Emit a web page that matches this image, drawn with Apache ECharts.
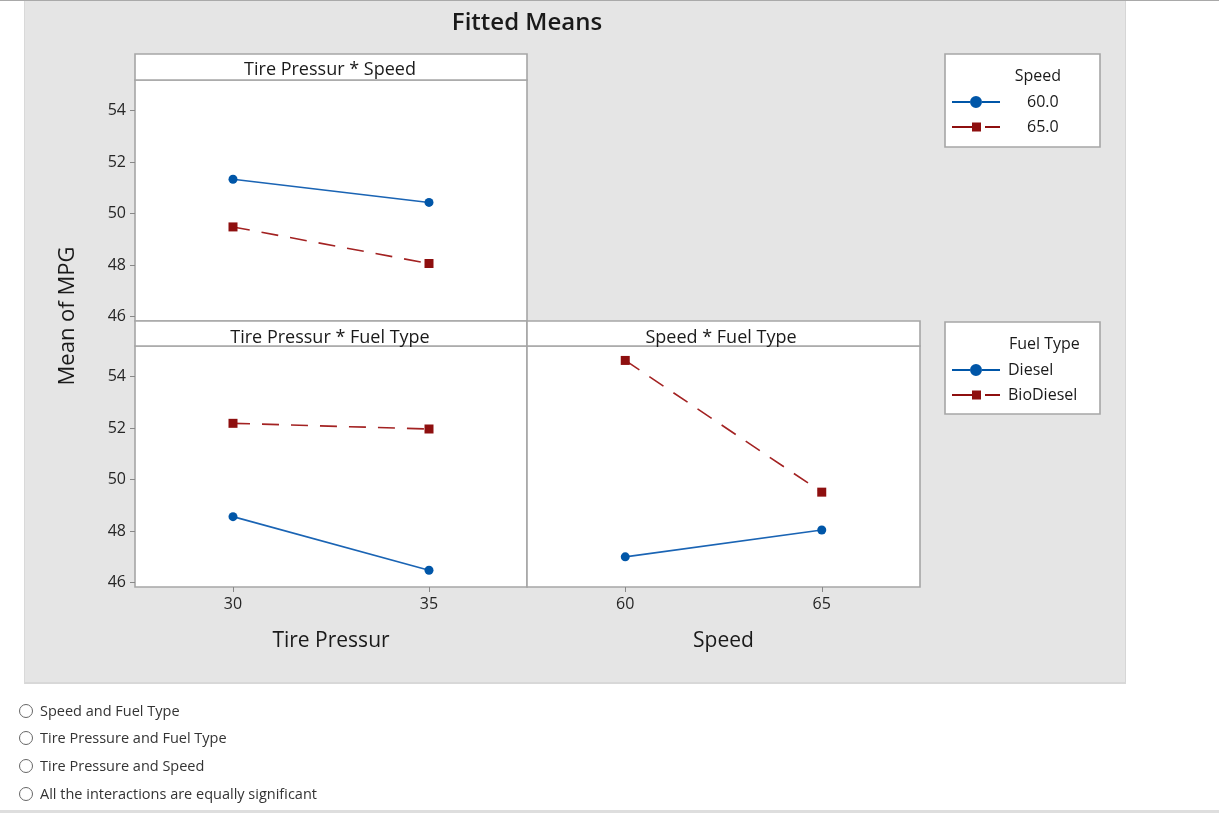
<!DOCTYPE html>
<html>
<head>
<meta charset="utf-8">
<script src="https://cdn.jsdelivr.net/npm/echarts@6/dist/echarts.min.js"></script>
<style>
  html, body { margin: 0; padding: 0; background: #fff; width: 1219px; height: 814px; overflow: hidden; font-family: "Open Sans", sans-serif; }
  #topline { position: absolute; left: 0; top: 0; width: 1219px; height: 1px; background: #a9a9a9; }
  #panel { position: absolute; left: 24px; top: 1px; width: 1100px; height: 681px; background: #e5e5e5; border-left: 1px solid #d9d9d9; border-right: 1px solid #d6d6d6; border-bottom: 2px solid #d8d8d8; }
  #chart { position: absolute; left: 0; top: 0; width: 1219px; height: 814px; }
  .opt { position: absolute; left: 19px; height: 20px; line-height: 20px; font-size: 14.5px; color: #333; }
  .opt span.r { display: inline-block; width: 12px; height: 12px; border: 1px solid #666; border-radius: 50%; vertical-align: middle; margin-right: 7px; margin-top: -3px; background: #fff; }
  #bottomline { position: absolute; left: 0; top: 810px; width: 1219px; height: 3px; background: #dedede; }
</style>
</head>
<body>
<div id="topline"></div>
<div id="panel"></div>
<div id="chart"></div>
<div id="opts"></div>
<div id="bottomline"></div>
<script>
// ---- data ----
const tirePressurLevels = [30, 35];
const speedLevels = [60, 65];
const speedNames = ['60.0', '65.0'];
const fuelNames = ['Diesel', 'BioDiesel'];
const tpSpeed60 = [51.33, 50.43];
const tpSpeed65 = [49.48, 48.06];
const tpDiesel = [48.56, 46.48];
const tpBioDiesel = [52.18, 51.96];
const spDiesel = [47.00, 48.04];
const spBioDiesel = [54.62, 49.51];
const yTickValues = [46, 48, 50, 52, 54];
const panelTitles = ['Tire Pressur * Speed', 'Tire Pressur * Fuel Type', 'Speed * Fuel Type'];
const options = ['Speed and Fuel Type', 'Tire Pressure and Fuel Type', 'Tire Pressure and Speed', 'All the interactions are equally significant'];

// radio options
const optBox = document.getElementById('opts');
const optTops = [701, 728, 756, 784];
options.forEach((t, i) => {
  const d = document.createElement('div');
  d.className = 'opt';
  d.style.top = optTops[i] + 'px';
  d.innerHTML = '<span class="r"></span>' + t;
  optBox.appendChild(d);
});

const FONT = '"Open Sans", "Noto Sans", sans-serif';
const BLUE = '#0056a8';
const RED = '#8e0f0f';
const REDLINE = '#a32222';
const BORDER = '#a6a6a6';
const pairs = (xs, ys) => xs.map((x, i) => [x, ys[i]]);

// legend icons: line + marker (48 x 14 box)
const ICON_CIRCLE = 'path://M0,6H18V8H0Z M30,6H48V8H30Z M30,7A6,6,0,1,1,18,7A6,6,0,1,1,30,7Z';
const ICON_SQUARE = 'path://M0,6H20V8H0Z M20,2.5H29V11.5H20Z M33,6H48V8H33Z';

const chart = echarts.init(document.getElementById('chart'), null, { renderer: 'canvas' });

const gridBase = { show: true, backgroundColor: '#fff', borderColor: BORDER, borderWidth: 1.6, containLabel: false };
const grids = [
  Object.assign({ left: 135, top: 80, width: 392, height: 241 }, gridBase),
  Object.assign({ left: 135, top: 346, width: 392, height: 241 }, gridBase),
  Object.assign({ left: 527, top: 346, width: 393, height: 241 }, gridBase)
];

function xAxisFor(gi, levels, min, max, showLabels, name) {
  return {
    type: 'value', gridIndex: gi, min: min, max: max,
    splitLine: { show: false },
    axisLine: { show: false },
    axisTick: { show: showLabels, inside: false, length: 5, lineStyle: { color: '#888' }, customValues: levels },
    axisLabel: { show: showLabels, margin: 9, fontSize: 16, color: '#262626', fontFamily: FONT, customValues: levels },
    name: name, nameLocation: 'middle', nameGap: 44,
    nameTextStyle: { fontSize: 21, color: '#1a1a1a', fontFamily: FONT }
  };
}
function yAxisFor(gi, showLabels) {
  return {
    type: 'value', gridIndex: gi, min: 45.83, max: 55.18,
    splitLine: { show: false },
    axisLine: { show: false },
    axisTick: { show: showLabels, inside: false, length: 5, lineStyle: { color: '#888' }, customValues: yTickValues },
    axisLabel: { show: showLabels, margin: 9, fontSize: 16, color: '#262626', fontFamily: FONT, customValues: yTickValues }
  };
}

function blueSeries(name, gi, data) {
  return {
    type: 'line', name: name, xAxisIndex: gi, yAxisIndex: gi, data: data,
    symbol: 'circle', symbolSize: 9,
    itemStyle: { color: BLUE },
    lineStyle: { color: '#1a64b4', width: 1.6, type: 'solid' },
    z: 3
  };
}
function redSeries(name, gi, data) {
  return {
    type: 'line', name: name, xAxisIndex: gi, yAxisIndex: gi, data: data,
    symbol: 'rect', symbolSize: 9,
    itemStyle: { color: RED },
    lineStyle: { color: REDLINE, width: 1.6, type: [17, 12] },
    z: 3
  };
}

const headerRect = (x, y, w, h) => ({
  type: 'rect', shape: { x: x, y: y, width: w, height: h },
  style: { fill: '#fff', stroke: BORDER, lineWidth: 1.6 }, z: 1
});

const titleStyle = (fs, weight) => ({ fontSize: fs, fontWeight: weight, color: '#1a1a1a', fontFamily: FONT });
const legendText = (padLeft) => ({ fontSize: 16, lineHeight: 18, color: '#1a1a1a', fontFamily: FONT, padding: [0, 0, 0, padLeft] });

const option = {
  animation: false,
  backgroundColor: 'transparent',
  title: [
    { text: 'Fitted Means', left: 527, top: 23, textAlign: 'center', textVerticalAlign: 'middle', padding: 0, textStyle: titleStyle(24, 600) },
    { text: panelTitles[0], left: 330, top: 70, textAlign: 'center', textVerticalAlign: 'middle', padding: 0, textStyle: titleStyle(18, 'normal') },
    { text: panelTitles[1], left: 330, top: 338, textAlign: 'center', textVerticalAlign: 'middle', padding: 0, textStyle: titleStyle(18, 'normal') },
    { text: panelTitles[2], left: 721, top: 338, textAlign: 'center', textVerticalAlign: 'middle', padding: 0, textStyle: titleStyle(18, 'normal') },
    { text: 'Speed', left: 1061, top: 76, textAlign: 'right', textVerticalAlign: 'middle', padding: 0, textStyle: titleStyle(16, 'normal') },
    { text: 'Fuel Type', left: 1009, top: 344, textAlign: 'left', textVerticalAlign: 'middle', padding: 0, textStyle: titleStyle(16, 'normal') }
  ],
  legend: [
    {
      data: [{ name: speedNames[0], icon: ICON_CIRCLE }, { name: speedNames[1], icon: ICON_SQUARE }],
      orient: 'vertical', left: 952, top: 93, padding: 0, itemGap: 7,
      itemWidth: 48, itemHeight: 14, symbolKeepAspect: true,
      textStyle: legendText(22)
    },
    {
      data: [{ name: fuelNames[0], icon: ICON_CIRCLE }, { name: fuelNames[1], icon: ICON_SQUARE }],
      orient: 'vertical', left: 952, top: 361, padding: 0, itemGap: 7,
      itemWidth: 48, itemHeight: 14, symbolKeepAspect: true,
      textStyle: legendText(3)
    }
  ],
  grid: grids,
  xAxis: [
    xAxisFor(0, tirePressurLevels, 27.5, 37.5, false, ''),
    xAxisFor(1, tirePressurLevels, 27.5, 37.5, true, 'Tire Pressur'),
    xAxisFor(2, speedLevels, 57.5, 67.5, true, 'Speed')
  ],
  yAxis: [yAxisFor(0, true), yAxisFor(1, true), yAxisFor(2, false)],
  graphic: [
    headerRect(135, 54, 392, 26),
    headerRect(135, 321, 392, 25),
    headerRect(527, 321, 393, 25),
    { type: 'rect', shape: { x: 945, y: 54, width: 155, height: 93 }, style: { fill: '#fff', stroke: BORDER, lineWidth: 1.6 }, z: 0 },
    { type: 'rect', shape: { x: 945, y: 322, width: 155, height: 92 }, style: { fill: '#fff', stroke: BORDER, lineWidth: 1.6 }, z: 0 },
    { type: 'text', x: 68, y: 316, rotation: Math.PI / 2,
      style: { text: 'Mean of MPG', fontSize: 22, fill: '#1a1a1a', fontFamily: FONT, align: 'center', verticalAlign: 'middle' }, z: 5 }
  ],
  series: [
    blueSeries(speedNames[0], 0, pairs(tirePressurLevels, tpSpeed60)),
    redSeries(speedNames[1], 0, pairs(tirePressurLevels, tpSpeed65)),
    blueSeries(fuelNames[0], 1, pairs(tirePressurLevels, tpDiesel)),
    redSeries(fuelNames[1], 1, pairs(tirePressurLevels, tpBioDiesel)),
    blueSeries(fuelNames[0], 2, pairs(speedLevels, spDiesel)),
    redSeries(fuelNames[1], 2, pairs(speedLevels, spBioDiesel))
  ]
};
chart.setOption(option);
</script>
</body>
</html>
